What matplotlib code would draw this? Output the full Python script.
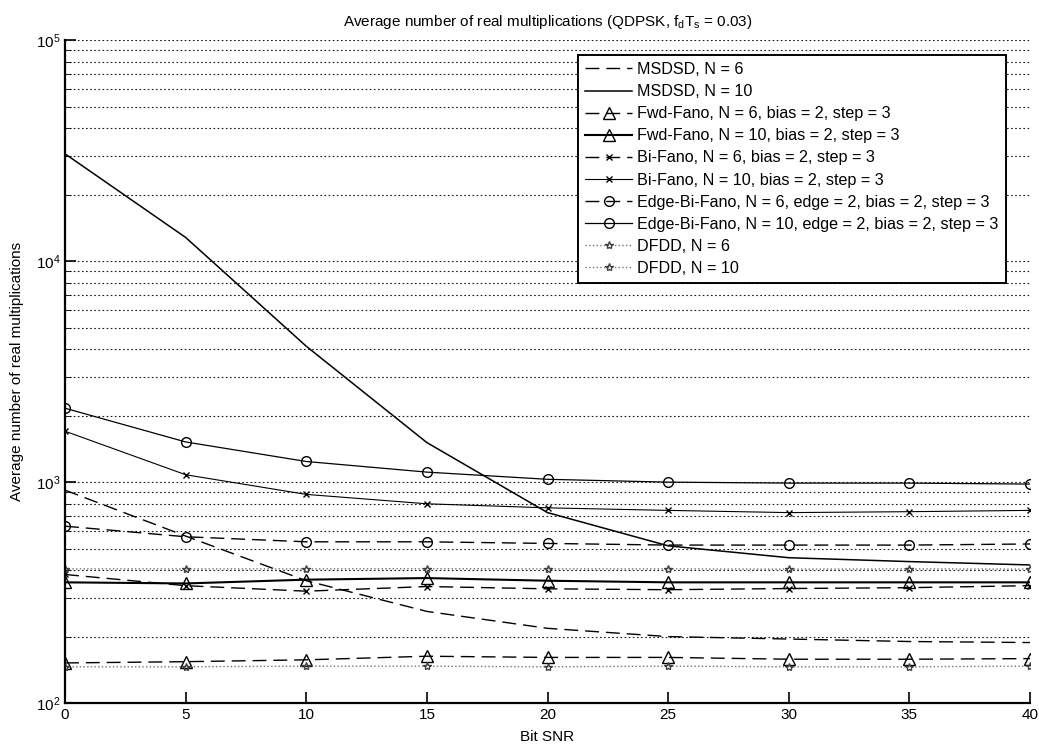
import matplotlib
matplotlib.use("Agg")
import matplotlib.pyplot as plt
from matplotlib.ticker import LogLocator, NullFormatter

plt.rcParams['font.family'] = ['Liberation Sans', 'DejaVu Sans']
plt.rcParams['mathtext.fontset'] = 'custom'
plt.rcParams['mathtext.rm'] = 'Liberation Sans'
plt.rcParams['mathtext.it'] = 'Liberation Sans'

snr = [0, 5, 10, 15, 20, 25, 30, 35, 40]

msdsd_6 = [920, 570, 358, 260, 218, 200, 195, 190, 188]
msdsd_10 = [30600, 12800, 4120, 1510, 728, 515, 455, 437, 422]
fwd_6 = [152, 154, 157, 163, 161, 161, 158, 158, 159]
fwd_10 = [352, 348, 362, 368, 358, 352, 352, 352, 352]
bi_6 = [382, 340, 321, 337, 329, 326, 330, 333, 340]
bi_10 = [1700, 1080, 880, 798, 765, 745, 728, 735, 745]
edge_6 = [632, 566, 537, 537, 528, 519, 519, 519, 525]
edge_10 = [2160, 1520, 1240, 1110, 1030, 1000, 990, 990, 980]
dfdd_6 = [146, 146, 147, 147, 146, 147, 146, 146, 147]
dfdd_10 = [405, 405, 405, 406, 405, 405, 404, 405, 404]

labels = ['MSDSD, N = 6', 'MSDSD, N = 10',
          'Fwd-Fano, N = 6, bias = 2, step = 3', 'Fwd-Fano, N = 10, bias = 2, step = 3',
          'Bi-Fano, N = 6, bias = 2, step = 3', 'Bi-Fano, N = 10, bias = 2, step = 3',
          'Edge-Bi-Fano, N = 6, edge = 2, bias = 2, step = 3',
          'Edge-Bi-Fano, N = 10, edge = 2, bias = 2, step = 3',
          'DFDD, N = 6', 'DFDD, N = 10']

dash = (0, (10, 5))
fig = plt.figure(figsize=(10.39, 7.48), dpi=100)
ax = fig.add_axes([0.0626, 0.060, 0.9287, 0.8863])

ax.plot(snr, msdsd_6, color='k', lw=1, linestyle=dash, label=labels[0])
ax.plot(snr, msdsd_10, color='k', lw=1.1, label=labels[1])
ax.plot(snr, fwd_6, color='k', lw=1, linestyle=dash, marker='^', ms=8, mfc='none', label=labels[2])
ax.plot(snr, fwd_10, color='k', lw=1.5, marker='^', ms=8, mfc='none', label=labels[3])
ax.plot(snr, bi_6, color='k', lw=1, linestyle=dash, marker='x', ms=4, label=labels[4])
ax.plot(snr, bi_10, color='k', lw=0.8, marker='x', ms=4, label=labels[5])
ax.plot(snr, edge_6, color='k', lw=1, linestyle=dash, marker='o', ms=7, mfc='none', label=labels[6])
ax.plot(snr, edge_10, color='k', lw=0.9, marker='o', ms=7, mfc='none', label=labels[7])
ax.plot(snr, dfdd_6, color='0.45', lw=1, linestyle=':', marker='*', ms=6, mfc='none', mec='0.25', label=labels[8])
ax.plot(snr, dfdd_10, color='0.45', lw=1, linestyle=':', marker='*', ms=6, mfc='none', mec='0.25', label=labels[9])

ax.set_yscale('log')
ax.set_xlim(0, 40)
ax.set_ylim(1e2, 1e5)
ax.set_xticks(snr)
ax.yaxis.set_major_locator(LogLocator(base=10))
ax.yaxis.set_minor_locator(LogLocator(base=10, subs=range(2, 10)))
ax.yaxis.set_minor_formatter(NullFormatter())
ax.grid(True, axis='y', which='both', color='0.1', lw=0.8, linestyle=(0, (1.5, 2.2)))

ax.spines['top'].set_visible(False)
ax.spines['right'].set_visible(False)
ax.spines['left'].set_linewidth(1.6)
ax.spines['bottom'].set_linewidth(1.6)
ax.tick_params(axis='both', which='major', direction='in', length=8, width=1.2, labelsize=11)
ax.tick_params(axis='y', which='minor', direction='in', length=4)

ax.set_xlabel('Bit SNR', fontsize=11, labelpad=6)
ax.set_ylabel('Average number of real multiplications', fontsize=11, labelpad=8)
ax.set_title('Average number of real multiplications (QDPSK, $f_dT_s$ = 0.03)', fontsize=11, pad=10)

leg = ax.legend(loc='upper right', bbox_to_anchor=(0.983, 0.99), fontsize=11.6,
                frameon=True, fancybox=False, framealpha=1, edgecolor='k',
                handlelength=2.9, handletextpad=0.3, labelspacing=0.44, borderpad=0.45)
leg.get_frame().set_linewidth(1.4)

fig.savefig('out.png', dpi=100)
